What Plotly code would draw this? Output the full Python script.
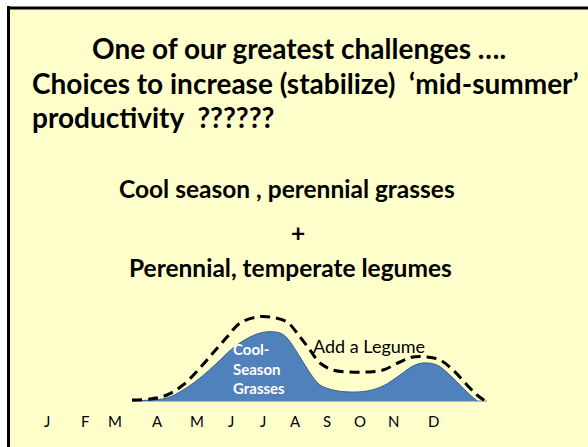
import plotly.graph_objects as go

# ---- data (x in horizontal units, y = productivity above baseline)
months = ["J", "F", "M", "A", "M", "J", "J", "A", "S", "O", "N", "D"]
month_pos = [47, 85, 115, 157, 197, 231, 263, 295, 327, 360, 393, 433]

grass_x = [132, 150, 167, 183, 200, 217, 233, 250, 265, 280, 287, 300, 310, 320, 333,
           350, 367, 383, 400, 413, 423, 437, 453, 467, 477]
grass_y = [0, 1, 3, 11, 23, 38, 53, 64, 69, 68, 63, 44, 28, 16, 11,
           9, 10, 15, 26, 35, 38, 36, 23, 9, 0]

legume_x = [132, 150, 167, 183, 200, 213, 227, 240, 257, 270, 287, 300, 310, 320, 333,
            350, 367, 383, 400, 413, 427, 440, 453, 467, 477, 487]
legume_y = [1, 2, 6, 16, 33, 48, 64, 78, 84, 84, 79, 64, 51, 38, 31,
            29, 29, 31, 39, 44, 44, 41, 31, 16, 6, -1]

title_lines = ["One of our greatest challenges ….",
               "Choices to increase (stabilize)  ‘mid-summer’",
               "productivity  ??????"]
sub_lines = ["Cool season , perennial grasses", "+", "Perennial, temperate legumes"]

FONT = "Lato, 'Open Sans', sans-serif"
YELLOW = "#FFFFCC"
BLUE = "#4F81BD"

fig = go.Figure()

# baseline
fig.add_trace(go.Scatter(x=[grass_x[0], legume_x[-1]], y=[0, 0], mode="lines",
                         line=dict(color="#7F7F7F", width=1), hoverinfo="skip",
                         showlegend=False))
# cool-season grasses area
fig.add_trace(go.Scatter(x=grass_x, y=grass_y, mode="lines",
                         line=dict(color="#3A5F8C", width=1, shape="spline", smoothing=1),
                         fill="tozeroy", fillcolor=BLUE, showlegend=False,
                         hoverinfo="skip"))
# add a legume (dashed)
fig.add_trace(go.Scatter(x=legume_x, y=legume_y, mode="lines",
                         line=dict(color="black", width=3, dash="10px,6px",
                                   shape="spline", smoothing=1),
                         showlegend=False, hoverinfo="skip"))

shapes = [
    dict(type="rect", xref="paper", yref="paper", x0=7 / 588, x1=1.05, y0=-0.05,
         y1=1 - 7 / 447, fillcolor=YELLOW, line=dict(width=0), layer="below"),
    dict(type="line", xref="paper", yref="paper", x0=8.5 / 588, x1=8.5 / 588,
         y0=-0.05, y1=1 - 6 / 447, line=dict(color="black", width=3), layer="below"),
    dict(type="line", xref="paper", yref="paper", x0=7 / 588, x1=1.05,
         y0=1 - 8 / 447, y1=1 - 8 / 447, line=dict(color="black", width=3), layer="below"),
]

ann = []
# titles
tfont = dict(family=FONT, size=28, color="black")
sfont = dict(family=FONT, size=24.5, color="black")
ann.append(dict(x=90, y=401 - 48, text="<b>" + title_lines[0] + "</b>", xanchor="left", font=tfont))
ann.append(dict(x=30, y=401 - 83, text="<b>" + title_lines[1] + "</b>", xanchor="left", font=tfont))
ann.append(dict(x=30, y=401 - 117, text="<b>" + title_lines[2] + "</b>", xanchor="left", font=tfont))
ann.append(dict(x=287, y=401 - 188, text="<b>" + sub_lines[0] + "</b>", xanchor="center", font=sfont))
ann.append(dict(x=298, y=401 - 232, text="<b>" + sub_lines[1] + "</b>", xanchor="center", font=sfont))
ann.append(dict(x=290, y=401 - 267, text="<b>" + sub_lines[2] + "</b>", xanchor="center", font=sfont))

ann.append(dict(x=311, y=401 - 346, text="Add a Legume", xanchor="left",
                font=dict(family=FONT, size=18, color="black")))
ann.append(dict(x=231, y=401 - 368, text="<b>Cool-<br>Season<br>Grasses</b>",
                xanchor="left", align="left",
                font=dict(family=FONT, size=15, color="white")))
for m, p in zip(months, month_pos):
    ann.append(dict(x=p, y=401 - 421, text=m, xanchor="center",
                    font=dict(family=FONT, size=15, color="black")))
for a in ann:
    a.update(xref="x", yref="y", yanchor="middle", showarrow=False)

fig.update_layout(
    width=588, height=447,
    margin=dict(l=0, r=0, t=0, b=0),
    paper_bgcolor="white", plot_bgcolor="rgba(0,0,0,0)",
    xaxis=dict(range=[0, 588], visible=False, fixedrange=True),
    yaxis=dict(range=[401 - 447, 401], visible=False, fixedrange=True),
    shapes=shapes, annotations=ann,
    showlegend=False,
)

fig.write_html("out.html", config=dict(displayModeBar=False),
               post_script="document.body.style.margin='0';"
                           "document.body.style.overflow='hidden';")
